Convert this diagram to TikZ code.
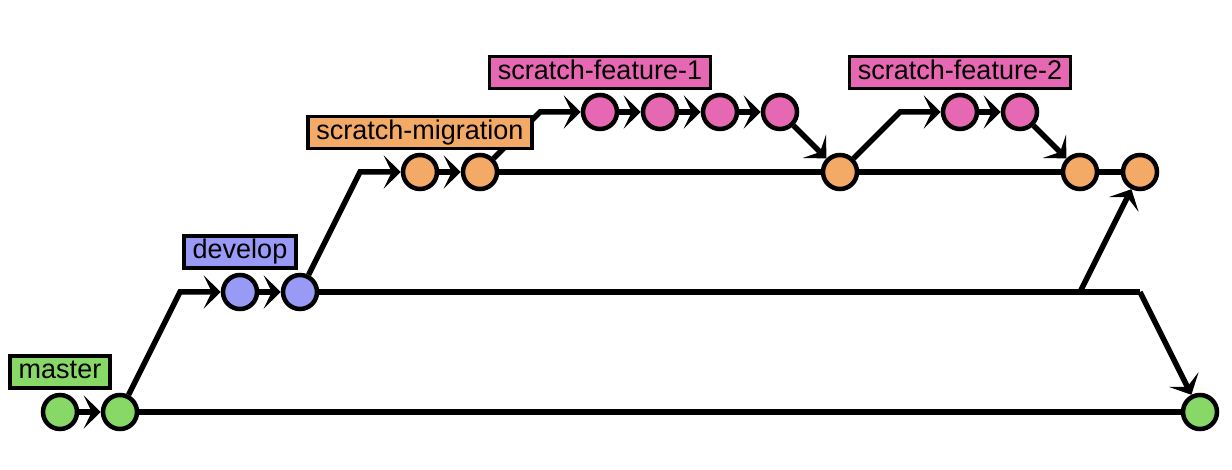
\documentclass[tikz,border=0pt]{standalone}
\usepackage{fontspec}
\setmainfont{Liberation Sans}
\usetikzlibrary{arrows.meta}
\definecolor{cgreen}{HTML}{88D868}
\definecolor{cblue}{HTML}{9999F6}
\definecolor{corange}{HTML}{F2AA66}
\definecolor{cpink}{HTML}{E668B2}
\tikzset{
  commit/.style={circle, draw=black, line width=4.5pt, minimum size=34pt, inner sep=0pt},
  branchlabel/.style={draw=black, line width=3.8pt, inner xsep=8.5pt, inner ysep=3.8pt,
     text height=19pt, text depth=5.5pt, font=\fontsize{27}{30}\selectfont},
  conn/.style={draw=black, line width=5.5pt},
  arr/.style={conn, -{Stealth[length=17pt, width=33pt, inset=8pt]}},
}
\begin{document}
\begin{tikzpicture}[x=1pt, y=-1pt]
\useasboundingbox (0,0) rectangle (1232,470);
% commits
\node[commit, fill=cgreen] (m1) at (60,412) {};
\node[commit, fill=cgreen] (m2) at (120,412) {};
\node[commit, fill=cgreen] (m3) at (1200,412) {};
\node[commit, fill=cblue] (d1) at (240,292) {};
\node[commit, fill=cblue] (d2) at (300,292) {};
\node[commit, fill=corange] (o1) at (420,172) {};
\node[commit, fill=corange] (o2) at (480,172) {};
\node[commit, fill=corange] (o3) at (840,172) {};
\node[commit, fill=corange] (o4) at (1080,172) {};
\node[commit, fill=corange] (o5) at (1140,172) {};
\node[commit, fill=cpink] (p1) at (600,112) {};
\node[commit, fill=cpink] (p2) at (660,112) {};
\node[commit, fill=cpink] (p3) at (720,112) {};
\node[commit, fill=cpink] (p4) at (780,112) {};
\node[commit, fill=cpink] (q1) at (960,112) {};
\node[commit, fill=cpink] (q2) at (1020,112) {};
% bend points
\coordinate (b1) at (180,292);
\coordinate (b2) at (360,172);
\coordinate (b3) at (540,112);
\coordinate (b4) at (900,112);
\coordinate (b5) at (1140,292);
\coordinate (b6) at (1080,292);
% connectors
\draw[arr] (m1) -- (m2);
\draw[conn] (m2) -- (m3);
\draw[arr] (m2) -- (b1) -- (d1);
\draw[arr] (d1) -- (d2);
\draw[arr] (d2) -- (b2) -- (o1);
\draw[conn] (d2) -- (b5);
\draw[arr] (b5) -- (m3);
\draw[arr] (b6) -- (o5);
\draw[arr] (o1) -- (o2);
\draw[arr] (o2) -- (b3) -- (p1);
\draw[conn] (o2) -- (o3);
\draw[arr] (p1) -- (p2);
\draw[arr] (p2) -- (p3);
\draw[arr] (p3) -- (p4);
\draw[arr] (p4) -- (o3);
\draw[arr] (o3) -- (b4) -- (q1);
\draw[conn] (o3) -- (o4);
\draw[arr] (q1) -- (q2);
\draw[arr] (q2) -- (o4);
\draw[conn] (o4) -- (o5);
% labels (on top of the connectors)
\node[branchlabel, fill=cgreen] (lm) at (60,372) {master};
\node[branchlabel, fill=cblue] (ld) at (240,252) {develop};
\node[branchlabel, fill=corange] (lo) at (420,132.5) {scratch-migration};
\node[branchlabel, fill=cpink] (lp) at (600,72.5) {scratch-feature-1};
\node[branchlabel, fill=cpink] (lq) at (960,72.5) {scratch-feature-2};
\end{tikzpicture}
\end{document}
